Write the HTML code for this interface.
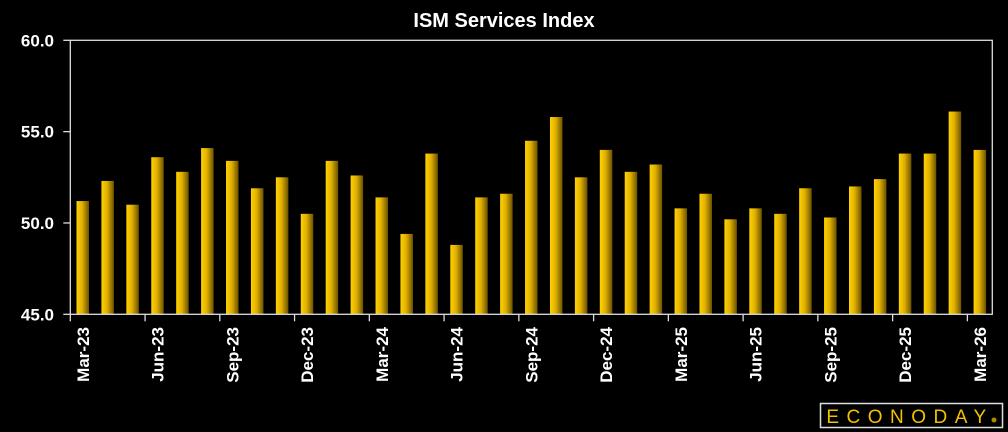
<!DOCTYPE html>
<html><head><meta charset="utf-8"><style>
html,body{margin:0;padding:0;background:#000;width:1008px;height:432px;overflow:hidden}
svg{display:block}
text{font-family:"Liberation Sans",sans-serif;font-weight:bold;fill:#fff}
</style></head><body>
<svg id="chart" width="1008" height="432">
<defs><linearGradient id="bg" x1="0" x2="1" y1="0" y2="0">
<stop offset="0" stop-color="#ffd200"/><stop offset="0.45" stop-color="#e0b000"/><stop offset="1" stop-color="#6b5200"/></linearGradient></defs>
<text x="504" y="27" text-anchor="middle" font-size="20">ISM Services Index</text>
<g id="bars"></g>
<g id="axes"></g>
<g>
<rect x="820.5" y="403.5" width="182" height="24" fill="#000" stroke="#ddd" stroke-width="1.5"/>
<text x="910" y="423" text-anchor="middle" font-size="19" letter-spacing="7.5" style="fill:#f2c200;font-weight:normal">ECONODAY</text>
<circle cx="994" cy="420" r="2.5" fill="#b08a00"/>
</g>
</svg>
<script>
const categories=["Mar-23","Apr-23","May-23","Jun-23","Jul-23","Aug-23","Sep-23","Oct-23","Nov-23","Dec-23","Jan-24","Feb-24","Mar-24","Apr-24","May-24","Jun-24","Jul-24","Aug-24","Sep-24","Oct-24","Nov-24","Dec-24","Jan-25","Feb-25","Mar-25","Apr-25","May-25","Jun-25","Jul-25","Aug-25","Sep-25","Oct-25","Nov-25","Dec-25","Jan-26","Feb-26","Mar-26"];
const values=[51.2,52.3,51.0,53.6,52.8,54.1,53.4,51.9,52.5,50.5,53.4,52.6,51.4,49.4,53.8,48.8,51.4,51.6,54.5,55.8,52.5,54.0,52.8,53.2,50.8,51.6,50.2,50.8,50.5,51.9,50.3,52.0,52.4,53.8,53.8,56.1,54.0];
const yTicks=[45,50,55,60];
const yTickLabels=["45.0","50.0","55.0","60.0"];
const NS="http://www.w3.org/2000/svg";
const L=70.3,R=992.3,T=40.3,B=314.3,yMin=45,yMax=60;
const slot=(R-L)/categories.length;
function xScale(i){return L+slot*i;}
function yScale(v){return B-(v-yMin)/(yMax-yMin)*(B-T);}
function mk(tag,attrs,parent){const e=document.createElementNS(NS,tag);for(const k in attrs)e.setAttribute(k,attrs[k]);parent.appendChild(e);return e;}
const bars=document.getElementById('bars'),axes=document.getElementById('axes');
values.forEach((v,i)=>{
  const cx=xScale(i)+slot/2,w=12.5;
  const r=mk('rect',{x:cx-w/2,y:yScale(v),width:w,height:B-yScale(v),fill:'url(#bg)'},bars);
  
  
});
const frame=mk('rect',{x:L,y:T,width:R-L,height:B-T,fill:'none',stroke:'#ddd','stroke-width':1.3},axes);


yTicks.forEach((t,i)=>{
  const y=yScale(t);
  mk('line',{x1:L-7,x2:L,y1:y,y2:y,stroke:'#ddd','stroke-width':1.3},axes);
  const tx=mk('text',{x:54,y:y+6,'text-anchor':'end','font-size':17},axes);
  tx.textContent=yTickLabels[i];
  
  
});
categories.forEach((c,i)=>{
  if(i%3!==0)return;
  const x=xScale(i);
  mk('line',{x1:x,x2:x,y1:B,y2:B+7,stroke:'#ddd','stroke-width':1.3},axes);
  const cx=x+slot/2+6;
  const tx=mk('text',{x:cx,y:327,'text-anchor':'end','font-size':17,transform:`rotate(-90 ${cx} 327)`},axes);
  tx.textContent=c;
  
  
});
</script>
</body></html>
